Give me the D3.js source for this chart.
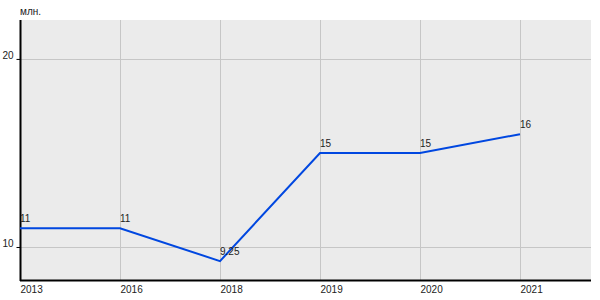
<!DOCTYPE html>
<html>
<head>
<meta charset="utf-8">
<script src="https://cdn.jsdelivr.net/npm/d3@7"></script>
<style>
body { margin: 0; background: #fff; }
text { font-family: Arial, "Liberation Sans", sans-serif; font-size: 10px; }
</style>
</head>
<body>
<script>
var years = ["2013", "2016", "2018", "2019", "2020", "2021"]
var values = [11, 11, 9.25, 15, 15, 16]
var labels = ["11", "11", "9.25", "15", "15", "16"]
var yTicks = [10, 20]
var unit = "млн."

var w = 600
var h = 300
var padLeft = 20, padRight = 591, padTop = 20, padBottom = 280

var svg = d3.select("body").append("svg")
	.attr("width", w)
	.attr("height", h)

// Scales
var xScale = d3.scalePoint()
	.domain(years)
	.range([padLeft, padLeft + 500])

var yScale = d3.scaleLinear()
	.domain([8.245, 22.07])
	.range([padBottom, padTop])

// background
svg.append("rect")
	.attr("x", padLeft).attr("y", padTop)
	.attr("width", padRight - padLeft).attr("height", padBottom - padTop)
	.attr("fill", "#ebebeb")

// grid
svg.append("g").selectAll("line")
	.data(years)
	.enter().append("line")
	.attr("x1", (d) => xScale(d) + 0.5).attr("x2", (d) => xScale(d) + 0.5)
	.attr("y1", padTop).attr("y2", padBottom)
	.attr("stroke", "#c6c6c6")

svg.append("g").selectAll("line")
	.data(yTicks)
	.enter().append("line")
	.attr("x1", padLeft).attr("x2", padRight)
	.attr("y1", (d) => Math.round(yScale(d)) + 0.5).attr("y2", (d) => Math.round(yScale(d)) + 0.5)
	.attr("stroke", "#c6c6c6")

// Axes
var yAxis = d3.axisLeft(yScale).tickValues(yTicks).tickSize(4).tickPadding(3)
var gy = svg.append("g")
	.attr("transform", "translate(" + (padLeft + 0.5) + ",0)")
	.call(yAxis)
gy.select(".domain").remove()
gy.selectAll("text").attr("dy", "-0.05em").style("font-size", "10px").attr("fill", "#222")

var xAxis = d3.axisBottom(xScale).tickSize(0).tickPadding(6)
var gx = svg.append("g")
	.attr("transform", "translate(0," + padBottom + ")")
	.call(xAxis)
gx.select(".domain").remove()
gx.selectAll("text").attr("text-anchor", "start").style("font-size", "10px").attr("fill", "#222")

svg.append("line")
	.attr("x1", padLeft + 0.5).attr("x2", padLeft + 0.5)
	.attr("y1", padTop).attr("y2", padBottom + 1)
	.attr("stroke", "#000").attr("stroke-width", 2)
svg.append("line")
	.attr("x1", padLeft).attr("x2", padRight)
	.attr("y1", padBottom + 0.5).attr("y2", padBottom + 0.5)
	.attr("stroke", "#000").attr("stroke-width", 2)

// line
var line = d3.line()
	.x((d, i) => xScale(years[i]))
	.y((d) => yScale(d))

svg.append("path")
	.datum(values)
	.attr("d", line)
	.attr("fill", "none")
	.attr("stroke", "#0047e0")
	.attr("stroke-width", 2)

// value labels
svg.append("g").selectAll("text")
	.data(values)
	.enter().append("text")
	.attr("x", (d, i) => xScale(years[i]))
	.attr("y", (d) => yScale(d) - 6)
	.attr("fill", "#222")
	.text((d, i) => labels[i])

svg.append("text")
	.attr("x", padLeft)
	.attr("y", 15)
	.attr("fill", "#222")
	.text(unit)
</script>
</body>
</html>
